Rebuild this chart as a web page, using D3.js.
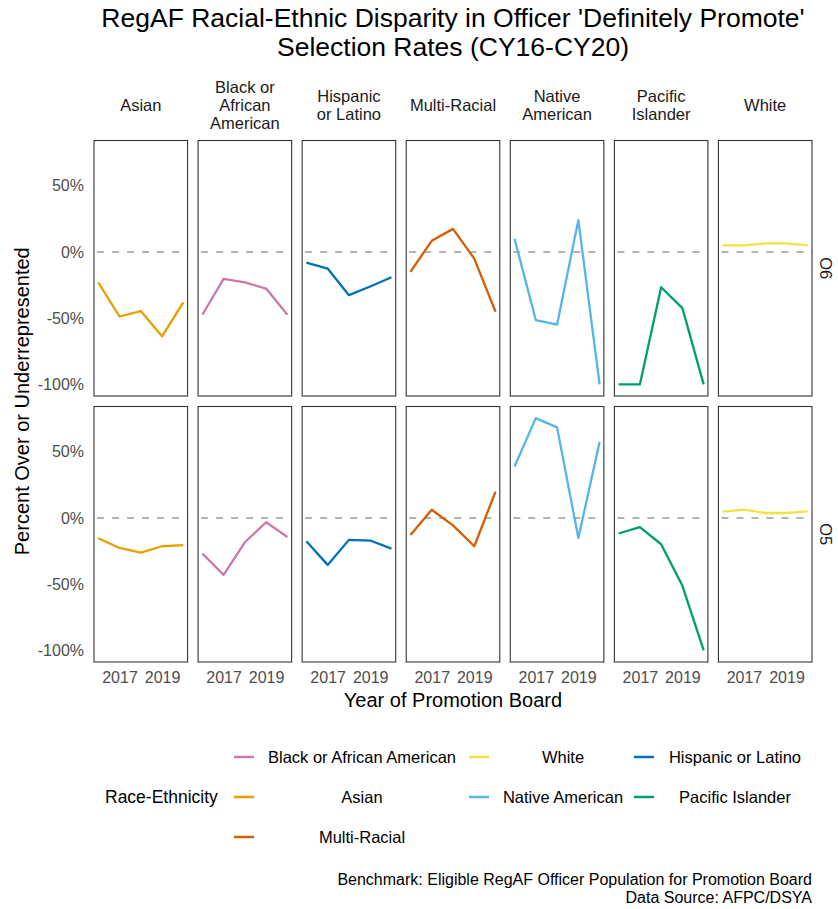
<!DOCTYPE html>
<html>
<head>
<meta charset="utf-8">
<script src="https://cdn.jsdelivr.net/npm/d3@7"></script>
<style>
  html, body { margin: 0; padding: 0; background: #fff; }
  text { font-family: "Liberation Sans", Arial, Helvetica, sans-serif; }
</style>
</head>
<body>
<svg id="chart" width="838" height="909"></svg>
<script>
// ---------------- data ----------------
const years = [2016, 2017, 2018, 2019, 2020];
const xTicks = [2017, 2019];
const yTicks = [0.5, 0, -0.5, -1];
const yTickLabels = ["50%", "0%", "-50%", "-100%"];
const races = ["Asian", "Black or African American", "Hispanic or Latino", "Multi-Racial",
               "Native American", "Pacific Islander", "White"];
const stripLabels = [["Asian"], ["Black or", "African", "American"], ["Hispanic", "or Latino"],
                     ["Multi-Racial"], ["Native", "American"], ["Pacific", "Islander"], ["White"]];
const grades = ["O6", "O5"];
const raceColors = ["#E69F00", "#CC79A7", "#0072B2", "#D55E00", "#56B4E9", "#009E73", "#F0E442"];

// O6 values per race (order of races), CY16..CY20
const o6Values = [
  [-0.23, -0.487, -0.446, -0.637, -0.381],
  [-0.474, -0.203, -0.23, -0.276, -0.474],
  [-0.08, -0.125, -0.326, -0.26, -0.19],
  [-0.15, 0.085, 0.175, -0.05, -0.451],
  [0.10, -0.514, -0.549, 0.241, -1.0],
  [-1.0, -1.0, -0.266, -0.424, -1.0],
  [0.05, 0.05, 0.065, 0.065, 0.05]
];
// O5 values per race
const o5Values = [
  [-0.153, -0.226, -0.261, -0.213, -0.205],
  [-0.268, -0.429, -0.183, -0.032, -0.143],
  [-0.175, -0.354, -0.165, -0.17, -0.231],
  [-0.128, 0.063, -0.055, -0.213, 0.20],
  [0.389, 0.755, 0.685, -0.15, 0.575],
  [-0.117, -0.068, -0.198, -0.512, -1.0],
  [0.048, 0.063, 0.038, 0.038, 0.05]
];
const gradeValues = [o6Values, o5Values];

const legendOrder = ["Black or African American", "White", "Hispanic or Latino",
                     "Asian", "Native American", "Pacific Islander", "Multi-Racial"];

const titleLines = ["RegAF Racial-Ethnic Disparity in Officer 'Definitely Promote'",
                    "Selection Rates (CY16-CY20)"];
const captionLines = ["Benchmark: Eligible RegAF Officer Population for Promotion Board",
                      "Data Source: AFPC/DSYA"];

// ---------------- layout ----------------
const svg = d3.select("#chart");
const plotLeft = 94, plotRight = 812, plotTop = 140.5;
const gap = 10.5;
const nCols = races.length;
const panelW = (plotRight - plotLeft - gap * (nCols - 1)) / nCols;
const panelH = 255.5;

const yMin = -1, yMax = 0.755;
const yPad = (yMax - yMin) * 0.05;
const y = d3.scaleLinear().domain([yMin - yPad, yMax + yPad]).range([panelH, 0]);
const xPad = (years[years.length - 1] - years[0]) * 0.05;
const x = d3.scaleLinear().domain([years[0] - xPad, years[years.length - 1] + xPad]).range([0, panelW]);

const color = d3.scaleOrdinal().domain(races).range(raceColors);

// title
svg.append("g").selectAll("text").data(titleLines).join("text")
  .attr("x", (plotLeft + plotRight) / 2)
  .attr("y", (d, i) => 27 + i * 29)
  .attr("text-anchor", "middle")
  .attr("font-size", 26.5)
  .attr("fill", "#000")
  .text(d => d);

// strip labels (top)
races.forEach((r, c) => {
  const cx = plotLeft + c * (panelW + gap) + panelW / 2;
  const lines = stripLabels[c];
  const lh = 18;
  const startY = 105 - (lines.length - 1) * lh / 2;
  svg.append("g").selectAll("text").data(lines).join("text")
    .attr("x", cx)
    .attr("y", (d, i) => startY + i * lh)
    .attr("dy", "0.35em")
    .attr("text-anchor", "middle")
    .attr("font-size", 16.5)
    .attr("fill", "#1a1a1a")
    .text(d => d);
});

const line = d3.line().x((d, i) => x(years[i])).y(d => y(d));

grades.forEach((g, rIdx) => {
  const top = plotTop + rIdx * (panelH + gap);
  races.forEach((race, c) => {
    const left = plotLeft + c * (panelW + gap);
    const pg = svg.append("g").attr("transform", `translate(${left},${top})`);
    // zero reference
    pg.append("line")
      .attr("x1", 0).attr("x2", panelW)
      .attr("y1", y(0)).attr("y2", y(0))
      .attr("stroke", "#b3b3b3").attr("stroke-width", 2)
      .attr("stroke-dasharray", "7,8")
      .attr("stroke-dashoffset", -3);
    // series
    pg.append("path")
      .datum(gradeValues[rIdx][c])
      .attr("d", line)
      .attr("fill", "none")
      .attr("stroke", color(race))
      .attr("stroke-width", 2.3)
      .attr("stroke-linejoin", "round");
    // border
    pg.append("rect")
      .attr("x", 0).attr("y", 0).attr("width", panelW).attr("height", panelH)
      .attr("fill", "none").attr("stroke", "#333").attr("stroke-width", 1.1);

    // y axis for first column
    if (c === 0) {
      const ax = pg.append("g").call(d3.axisLeft(y).tickValues(yTicks)
        .tickFormat((d, i) => yTickLabels[i]).tickSize(0).tickPadding(10));
      ax.select(".domain").remove();
      ax.selectAll("text").attr("font-size", 16).attr("fill", "#4d4d4d")
        .attr("font-family", "Liberation Sans, Arial, sans-serif");
    }
    // x axis on bottom row
    if (rIdx === grades.length - 1) {
      const ax = pg.append("g").attr("transform", `translate(0,${panelH})`)
        .call(d3.axisBottom(x).tickValues(xTicks).tickFormat(d3.format("d")).tickSize(0).tickPadding(10));
      ax.select(".domain").remove();
      ax.selectAll("text").attr("font-size", 16).attr("fill", "#4d4d4d")
        .attr("font-family", "Liberation Sans, Arial, sans-serif");
    }
  });
  // right strip label
  svg.append("text")
    .attr("transform", `translate(${plotRight + 14},${top + panelH / 2}) rotate(90)`)
    .attr("text-anchor", "middle")
    .attr("dy", "0.35em")
    .attr("font-size", 16.5)
    .attr("fill", "#1a1a1a")
    .text(g);
});

// axis titles
svg.append("text")
  .attr("x", (plotLeft + plotRight) / 2)
  .attr("y", 707)
  .attr("text-anchor", "middle")
  .attr("font-size", 20)
  .attr("fill", "#000")
  .text("Year of Promotion Board");

svg.append("text")
  .attr("transform", `translate(29,${plotTop + panelH + gap / 2}) rotate(-90)`)
  .attr("text-anchor", "middle")
  .attr("font-size", 20)
  .attr("fill", "#000")
  .text("Percent Over or Underrepresented");

// legend
svg.append("text")
  .attr("x", 105).attr("y", 797).attr("dy", "0.35em")
  .attr("font-size", 17.5).attr("fill", "#000")
  .text("Race-Ethnicity");

const keyCenters = [244, 479, 644];
const labelCenters = [362, 563, 735];
const rowYs = [757, 797, 837];
legendOrder.forEach((race, i) => {
  const col = i % 3, row = Math.floor(i / 3);
  const ly = rowYs[row];
  svg.append("line")
    .attr("x1", keyCenters[col] - 10).attr("x2", keyCenters[col] + 10)
    .attr("y1", ly).attr("y2", ly)
    .attr("stroke", color(race)).attr("stroke-width", 2.5);
  svg.append("text")
    .attr("x", labelCenters[col]).attr("y", ly).attr("dy", "0.35em")
    .attr("text-anchor", "middle")
    .attr("font-size", 16.5).attr("fill", "#000")
    .text(race);
});

// caption
svg.append("g").selectAll("text").data(captionLines).join("text")
  .attr("x", plotRight)
  .attr("y", (d, i) => 885 + i * 18)
  .attr("text-anchor", "end")
  .attr("font-size", 16)
  .attr("fill", "#000")
  .text(d => d);
</script>
</body>
</html>
